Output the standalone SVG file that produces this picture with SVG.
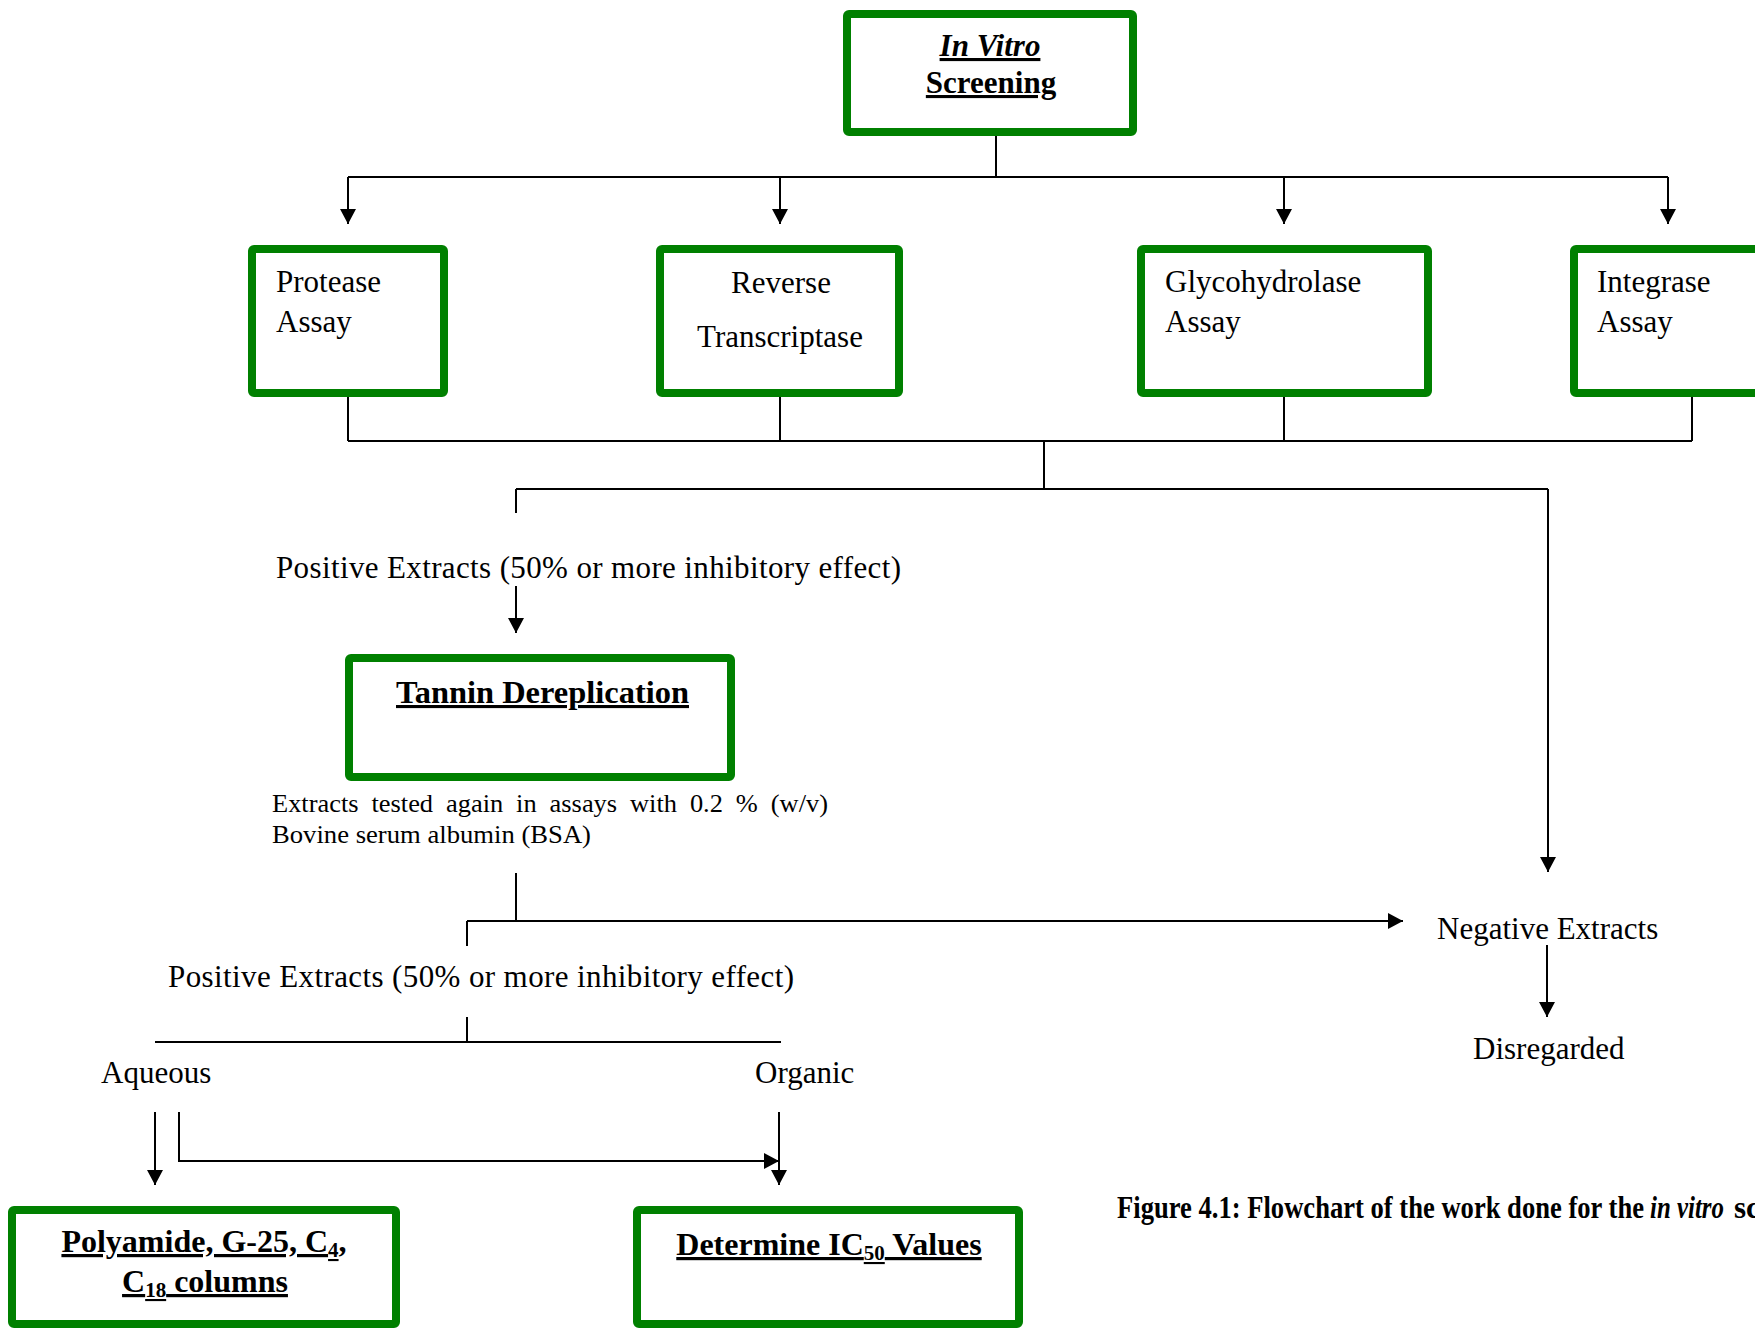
<svg xmlns="http://www.w3.org/2000/svg" width="1755" height="1328" viewBox="0 0 1755 1328">
<style>
.box{fill:#fff;stroke:#008000;stroke-width:8}
.t{font-family:"Liberation Serif","Times New Roman",serif;font-size:31px;fill:#000}
.b{font-weight:bold}
.h{font-size:32px}
.u{text-decoration:underline;text-decoration-thickness:3px}
.c{stroke:#000;stroke-width:2;fill:none}
.sm{font-size:25px}
</style>
<defs>
<marker id="ah" markerUnits="userSpaceOnUse" markerWidth="16" markerHeight="16" refX="15" refY="8" orient="auto">
<path d="M0,0 L15,8 L0,16 Z" fill="#000"/>
</marker>
</defs>
<rect width="1755" height="1328" fill="#fff"/>
<g id="connectors">
<path class="c" d="M996,136 V177 M348,177 H1668"/>
<path class="c" d="M348,177 V224" marker-end="url(#ah)"/>
<path class="c" d="M780,177 V224" marker-end="url(#ah)"/>
<path class="c" d="M1284,177 V224" marker-end="url(#ah)"/>
<path class="c" d="M1668,177 V224" marker-end="url(#ah)"/>
<path class="c" d="M348,397 V441 M780,397 V441 M1284,397 V441 M1692,397 V441 M348,441 H1692 M1044,441 V489 M516,489 H1548 M516,489 V513"/>
<path class="c" d="M1548,489 V872" marker-end="url(#ah)"/>
<path class="c" d="M516,586 V633" marker-end="url(#ah)"/>
<path class="c" d="M516,873 V921 M467,921 V946"/>
<path class="c" d="M467,921 H1403" marker-end="url(#ah)"/>
<path class="c" d="M1547,945 V1017" marker-end="url(#ah)"/>
<path class="c" d="M467,1017 V1042 M155,1042 H781"/>
<path class="c" d="M155,1112 V1185" marker-end="url(#ah)"/>
<path class="c" d="M179,1112 V1161 H779" marker-end="url(#ah)"/>
<path class="c" d="M779,1112 V1185" marker-end="url(#ah)"/>
</g>
<g id="n-screening">
<rect class="box" x="847" y="14" width="286" height="118" rx="2"/>
<text class="t b u" x="990" y="56" text-anchor="middle" font-style="italic">In Vitro</text>
<text class="t b u" x="991" y="93" text-anchor="middle">Screening</text>
</g>
<g id="n-protease">
<rect class="box" x="252" y="249" width="192" height="144" rx="2"/>
<text class="t" x="276" y="292">Protease</text>
<text class="t" x="276" y="332">Assay</text>
</g>
<g id="n-rt">
<rect class="box" x="660" y="249" width="239" height="144" rx="2"/>
<text class="t" x="781" y="293" text-anchor="middle">Reverse</text>
<text class="t" x="780" y="347" text-anchor="middle">Transcriptase</text>
</g>
<g id="n-glyco">
<rect class="box" x="1141" y="249" width="287" height="144" rx="2"/>
<text class="t" x="1165" y="292">Glycohydrolase</text>
<text class="t" x="1165" y="332">Assay</text>
</g>
<g id="n-integrase">
<rect class="box" x="1574" y="249" width="300" height="144" rx="2"/>
<text class="t" x="1597" y="292">Integrase</text>
<text class="t" x="1597" y="332">Assay</text>
</g>
<g id="n-positive1">
<text class="t" x="276" y="578" textLength="625" lengthAdjust="spacing">Positive Extracts (50% or more inhibitory effect)</text>
</g>
<g id="n-tannin">
<rect class="box" x="349" y="658" width="382" height="119" rx="2"/>
<text class="t b u" x="396" y="703" textLength="293" lengthAdjust="spacingAndGlyphs">Tannin Dereplication</text>
</g>
<g id="n-bsa">
<text class="t sm" x="272" y="812" textLength="556" lengthAdjust="spacingAndGlyphs" word-spacing="6">Extracts tested again in assays with 0.2 % (w/v)</text>
<text class="t sm" x="272" y="843" textLength="319" lengthAdjust="spacingAndGlyphs">Bovine serum albumin (BSA)</text>
</g>
<g id="n-positive2">
<text class="t" x="168" y="987" textLength="626" lengthAdjust="spacing">Positive Extracts (50% or more inhibitory effect)</text>
</g>
<g id="n-negative">
<text class="t" x="1437" y="939">Negative Extracts</text>
</g>
<g id="n-disregarded">
<text class="t" x="1473" y="1059">Disregarded</text>
</g>
<g id="n-aqueous">
<text class="t" x="101" y="1083">Aqueous</text>
</g>
<g id="n-organic">
<text class="t" x="755" y="1083">Organic</text>
</g>
<g id="n-polyamide">
<rect class="box" x="12" y="1210" width="384" height="114" rx="2"/>
<text class="t b u h" x="204" y="1252" text-anchor="middle">Polyamide, G-25, C<tspan font-size="21" dy="5">4</tspan><tspan dy="-5">,</tspan></text>
<text class="t b u h" x="205" y="1292" text-anchor="middle">C<tspan font-size="21" dy="5">18</tspan><tspan dy="-5"> columns</tspan></text>
</g>
<g id="n-ic50">
<rect class="box" x="637" y="1210" width="382" height="114" rx="2"/>
<text class="t b u h" x="829" y="1255" text-anchor="middle">Determine IC<tspan font-size="21" dy="5">50</tspan><tspan dy="-5"> Values</tspan></text>
</g>
<g id="caption">
<text class="t b" font-size="25" y="1218"><tspan x="1117" textLength="527" lengthAdjust="spacingAndGlyphs">Figure 4.1: Flowchart of the work done for the</tspan><tspan x="1650" font-style="italic" textLength="74" lengthAdjust="spacingAndGlyphs">in vitro</tspan><tspan x="1734">sc</tspan></text>
</g>
</svg>
